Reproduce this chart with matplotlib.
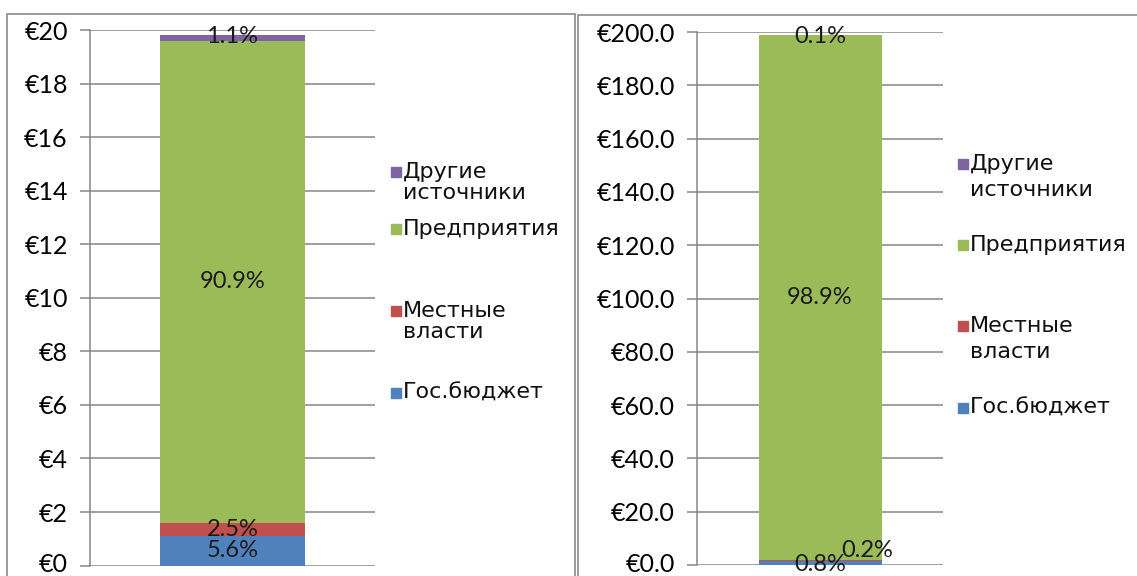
import matplotlib.pyplot as plt
from matplotlib.patches import Rectangle
from matplotlib.transforms import ScaledTranslation

W, H = 1137, 576

sources = ["Гос.бюджет", "Местные\nвласти", "Предприятия", "Другие\nисточники"]
colors = ["#4F81BD", "#C0504D", "#9BBB59", "#8064A2"]

# share of each source, %, and the total amount, €
left_pct = [5.6, 2.5, 90.9, 1.1]
left_total = 19.8
right_pct = [0.8, 0.2, 98.9, 0.1]
right_total = 199.0

left_ticks = list(range(0, 21, 2))
right_ticks = list(range(0, 201, 20))

plt.rcParams['font.family'] = ['Lato', 'DejaVu Sans']

fig = plt.figure(figsize=(W / 100, H / 100), dpi=100)


def px_box(x0, x1, y0, y1):
    # pixel box -> figure fraction [left, bottom, width, height]
    return [x0 / W, 1 - y1 / H, (x1 - x0) / W, (y1 - y0) / H]


def frame(x0, x1, y0, y1):
    fig.patches.append(Rectangle((x0 / W, 1 - y1 / H), (x1 - x0) / W, (y1 - y0) / H,
                                 transform=fig.transFigure, fill=False,
                                 edgecolor="#8c8c8c", lw=1.2))


def stacked(ax, pct, total, ticks, fmt, width, ymax, offsets):
    bottom = 0
    for p, c, off in zip(pct, colors, offsets):
        v = p * total / 100
        ax.bar(0, v, width=width, bottom=bottom, color=c, zorder=3)
        ax.annotate(f"{p}%", (0, bottom + v / 2), xytext=off, textcoords="offset points",
                    ha="center", va="center", fontsize=17, color="#1a1a1a", zorder=4)
        bottom += v
    ax.set_xlim(-0.5, 0.5)
    ax.set_ylim(0, ymax)
    ax.set_yticks(ticks)
    ax.set_yticklabels([fmt.format(t) for t in ticks], fontsize=18)
    ax.set_xticks([])
    ax.grid(axis="y", color="#868686", lw=1.1, zorder=0)
    for s in ["top", "right", "bottom"]:
        ax.spines[s].set_visible(False)
    ax.spines["left"].set_color("#868686")
    ax.spines["left"].set_linewidth(1.1)
    ax.tick_params(axis="y", length=7, color="#868686", width=1.1, pad=9)
    # keep the lowest label inside the frame
    lab0 = ax.get_yticklabels()[0]
    lab0.set_transform(lab0.get_transform() + ScaledTranslation(0, 3 / 100, fig.dpi_scale_trans))


def legend(x, ys, spacing):
    # entries listed top to bottom; ys are centres of the first text line
    for lab, c, y in zip(sources[::-1], colors[::-1], ys):
        fig.patches.append(Rectangle(((x - 12) / W, 1 - (y + 5) / H), 10 / W, 10 / H,
                                     transform=fig.transFigure, color=c))
        fig.text(x / W, 1 - (y - 10) / H, lab, ha="left", va="top",
                 fontsize=16, linespacing=spacing, color="#111111",
                 family=['DejaVu Sans'])


frame(7, 575, 14, 600)
frame(578, 1160, 15, 600)

ax1 = fig.add_axes(px_box(90, 375, 30, 565.6))
stacked(ax1, left_pct, left_total, left_ticks, "€{:.0f}", 0.51, 20,
        [(0, 0), (0, 0), (0, 0), (0, 1)])
legend(403, [172, 229, 311, 393], 1.05)

ax2 = fig.add_axes(px_box(697, 943, 32, 565))
stacked(ax2, right_pct, right_total, right_ticks, "€{:.1f}", 0.5, 200,
        [(0, -1), (34, 7), (0, 0), (0, -1)])
legend(970, [164, 245, 326, 408], 1.35)

fig.savefig("out.png", dpi=100)
